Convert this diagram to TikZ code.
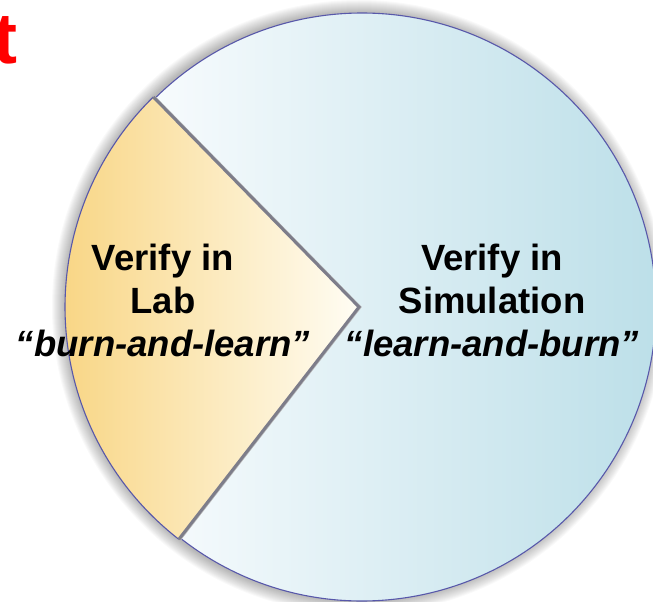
\documentclass[tikz,border=0pt]{standalone}
\usepackage{fontspec}
\setmainfont{Liberation Sans}
\definecolor{labyellow}{RGB}{248,212,128}
\definecolor{labwhite}{RGB}{255,253,244}
\definecolor{simwhite}{RGB}{247,251,253}
\definecolor{simblue}{RGB}{184,221,231}
\definecolor{rimblue}{RGB}{88,88,170}
\definecolor{seamgray}{RGB}{125,125,138}

\begin{document}
\begin{tikzpicture}[x=1pt, y=1pt,
	rim/.style ={draw=rimblue, line width=1.1pt},
	seam/.style ={draw=seamgray, line width=3pt, line join=miter},
	verify/.style ={align=center, inner sep=0pt,
		font=\bfseries\fontsize{36.5}{43}\selectfont}]
	\useasboundingbox (0,0) rectangle (653,602);
	\coordinate (C) at (359,295);
	\coordinate (Cs) at (362,295);
	% soft shadow round the pie
	\foreach \i in {1,...,14}
		\fill[black, opacity=0.022] (C) circle (293+\i);
	% simulation slice
	\path (Cs) ++(-127.8:294) coordinate (S2);
	\path (C) ++(134.4:294) coordinate (L1);
	\path (C) ++(232.2:294) coordinate (L2);
	\shade[left color=simwhite, right color=simblue] (Cs) -- (S2)
		arc[start angle=-127.8, end angle=134.4, radius=294] -- cycle;
	\draw[rim] (S2) arc[start angle=-127.8, end angle=134.4, radius=294];
	% lab slice
	\shade[left color=labyellow, right color=labwhite] (C) -- (L1)
		arc[start angle=134.4, end angle=232.2, radius=294] -- cycle;
	\draw[rim] (L1) arc[start angle=134.4, end angle=232.2, radius=294];
	\draw[seam] (L1) -- (C) -- (L2);
	\node[verify] (lab) at (163,302) {Verify in\\Lab\\\textit{“burn-and-learn”}};
	\node[verify] (sim) at (492,302) {Verify in\\Simulation\\\textit{“learn-and-burn”}};
	\node[anchor=base east, inner sep=0pt, text=red,
		font=\bfseries\fontsize{72}{72}\selectfont] (cue) at (18,538) {t};
\end{tikzpicture}
\end{document}
